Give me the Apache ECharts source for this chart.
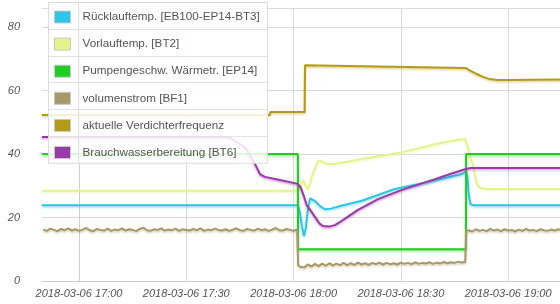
<!DOCTYPE html>
<html>
<head>
<meta charset="utf-8">
<script src="https://cdn.jsdelivr.net/npm/echarts@6/dist/echarts.min.js"></script>
<style>
html,body{margin:0;padding:0;background:#fff;}
#chart{width:560px;height:304px;}
</style>
</head>
<body>
<div id="chart"></div>
<script>
// ---- data (x = minutes after 2018-03-06 17:00) ----
var seriesNames = ['Rücklauftemp. [EB100-EP14-BT3]', 'Vorlauftemp. [BT2]', 'Pumpengeschw. Wärmetr. [EP14]', 'volumenstrom [BF1]', 'aktuelle Verdichterfrequenz', 'Brauchwasserbereitung [BT6]'];
var tickValues = [0, 30, 60, 90, 120];
var tickLabels = ['2018-03-06 17:00', '2018-03-06 17:30', '2018-03-06 18:00', '2018-03-06 18:30', '2018-03-06 19:00'];

var ruecklaufTimes = [-10.4, 61.2, 61.7, 62.3, 62.9, 63.4, 64.0, 64.6, 65.1, 66.0, 67.5, 68.8, 70.5, 73.0, 79.1, 88.3, 97.6, 107.1, 108.2, 108.6, 109.0, 109.5, 110.2, 135];
var ruecklaufValues = [23.9, 23.9, 22.0, 17.5, 14.2, 16.5, 22.5, 26.0, 26.3, 25.2, 23.5, 22.6, 22.8, 23.6, 25.3, 29.0, 31.2, 33.7, 34.5, 33.0, 27.0, 24.2, 23.9, 23.9];

var vorlaufTimes = [-10.4, 61.5, 62.3, 62.7, 63.2, 64.0, 64.6, 65.1, 66.0, 66.8, 67.5, 68.0, 69.0, 70.2, 72.0, 75.8, 79.1, 85.0, 90.3, 95.0, 99.5, 104.0, 107.9, 108.2, 108.8, 109.5, 110.1, 110.8, 111.3, 112.0, 112.7, 114.0, 135];
var vorlaufValues = [28.4, 28.4, 30.8, 31.8, 30.5, 29.0, 30.5, 32.9, 35.5, 37.6, 37.9, 37.8, 37.1, 36.8, 37.0, 37.7, 38.4, 39.5, 40.6, 41.8, 43.1, 44.1, 44.8, 44.8, 42.0, 38.5, 37.0, 33.0, 30.6, 29.6, 29.2, 29.0, 29.0];

var pumpeTimes = [-10.4, 61.2, 61.25, 108.2, 108.25, 135];
var pumpeValues = [40, 40, 10, 10, 40, 40];

// volumenstrom: readings once per minute inside each segment
var volSeg1Start = -10;   // 1-minute readings from -10 to 61
var volSeg1Values = [16.2, 15.8, 16.5, 16.1, 15.7, 16.4, 16.0, 16.6, 15.9, 16.3, 15.8, 16.2, 16.7, 16.0, 15.7, 16.4, 16.1, 15.9, 16.5, 15.8, 16.2, 16.0, 16.6, 15.9, 16.3, 16.1, 15.7, 16.4, 16.8, 16.0, 15.8, 16.3, 16.1, 16.6, 15.9, 16.2, 16.0, 16.5, 15.8, 16.3, 16.1, 15.9, 16.4, 16.0, 16.6, 15.8, 16.2, 16.0, 16.5, 16.1, 15.9, 16.3, 15.8, 16.2, 16.6, 16.0, 15.8, 16.4, 16.1, 15.9, 16.5, 16.0, 16.3, 15.8, 16.2, 16.7, 16.0, 15.9, 16.4, 16.1, 15.8, 16.3];
var volSeg2Start = 61.3;  // then 62..108
var volSeg2Values = [5.0, 4.4, 4.3, 5.2, 4.6, 5.4, 4.7, 5.5, 4.8, 5.6, 4.9, 5.5, 5.0, 5.7, 5.0, 5.6, 5.1, 5.8, 5.2, 5.6, 5.1, 5.7, 5.3, 5.8, 5.2, 5.7, 5.3, 5.6, 5.2, 5.8, 5.4, 5.7, 5.3, 5.9, 5.4, 5.7, 5.5, 5.9, 5.4, 5.8, 5.5, 6.0, 5.6, 5.9, 5.7, 6.1, 5.8, 6.0];
var volSeg3Start = 108.3; // then 109..135
var volSeg3Values = [15.8, 16.0, 15.6, 16.3, 15.8, 16.1, 15.7, 16.4, 15.9, 16.2, 15.7, 16.3, 15.9, 16.1, 15.6, 16.2, 15.8, 16.4, 15.9, 16.1, 15.7, 16.3, 16.0, 15.8, 16.2, 15.9, 16.3, 16.0];

var verdichterTimes = [-10.4, 53.4, 53.5, 63.1, 63.2, 108.2, 109.5, 111.3, 113.0, 114.9, 117.0, 119.7, 135];
var verdichterValues = [52.3, 52.3, 53.2, 53.2, 68.0, 67.1, 66.2, 65.2, 64.3, 63.6, 63.3, 63.3, 63.5];

var brauchTimes = [-10.4, 41.0, 42.5, 43.6, 46.4, 48.4, 49.2, 50.6, 52.0, 56.2, 61.2, 62.0, 62.8, 63.7, 64.6, 66.0, 67.2, 68.2, 70.2, 71.5, 73.0, 75.5, 78.0, 83.6, 90.3, 99.5, 104.0, 107.9, 109.5, 135];
var brauchValues = [45.4, 45.4, 45.0, 44.1, 42.2, 38.4, 36.9, 33.7, 32.8, 31.8, 30.6, 29.5, 27.0, 23.8, 22.5, 20.2, 18.2, 17.3, 17.2, 17.6, 18.6, 20.5, 22.4, 25.8, 28.7, 32.1, 33.8, 35.2, 35.6, 35.6];

var colors = ['#2ec5e6', '#e4f38c', '#22cc22', '#a89868', '#b39b1a', '#9a3aa8'];

// ---- build ----
function pairs(t, v) { return t.map(function (x, i) { return [x, v[i]]; }); }
function segment(start, vals) {
  // first reading at start, following readings on whole minutes
  var out = [[start, vals[0]]];
  var m = Math.floor(start) + 1;
  for (var i = 1; i < vals.length; i++) { out.push([m, vals[i]]); m++; }
  return out;
}
var volData = [];
volSeg1Values.forEach(function (v, i) { volData.push([volSeg1Start + i, v]); });
volData.push([61.2, volSeg1Values[volSeg1Values.length - 1]]);
volData = volData.concat(segment(volSeg2Start, volSeg2Values));
volData.push([108.2, volSeg2Values[volSeg2Values.length - 1]]);
volData = volData.concat(segment(volSeg3Start, volSeg3Values));

var dataSets = [
  pairs(ruecklaufTimes, ruecklaufValues),
  pairs(vorlaufTimes, vorlaufValues),
  pairs(pumpeTimes, pumpeValues),
  volData,
  pairs(verdichterTimes, verdichterValues),
  pairs(brauchTimes, brauchValues)
];

function hexA(hex, a) {
  var r = parseInt(hex.substr(1, 2), 16), g = parseInt(hex.substr(3, 2), 16), b = parseInt(hex.substr(5, 2), 16);
  return 'rgba(' + r + ',' + g + ',' + b + ',' + a + ')';
}

var series = seriesNames.map(function (n, i) {
  return {
    name: n, type: 'line', data: dataSets[i], showSymbol: false, symbol: 'none',
    color: colors[i], z: 2,
    lineStyle: { width: 2, color: colors[i], shadowColor: hexA(colors[i], 0.45), shadowBlur: 2, shadowOffsetY: 1.5 },
    animation: false
  };
});

var legendTop = 2, legendLeft = 48, legendW = 219, rowH = 26.8;
var gfx = [{
  type: 'rect', z: 3, silent: true,
  shape: { x: legendLeft + 0.5, y: legendTop + 0.5, width: legendW, height: rowH * 6 },
  style: { fill: 'rgba(255,255,255,0.85)', stroke: '#dcdcdc', lineWidth: 1 }
}, {
  type: 'line', z: 3, silent: true,
  shape: { x1: 78.5, y1: legendTop + 0.5, x2: 78.5, y2: legendTop + 0.5 + rowH * 6 },
  style: { stroke: '#e2e2e2', lineWidth: 1 }
}];
for (var r = 1; r < 6; r++) {
  var yy = Math.round(legendTop + rowH * r) + 0.5;
  gfx.push({ type: 'line', z: 3, silent: true, shape: { x1: legendLeft + 0.5, y1: yy, x2: legendLeft + 0.5 + legendW, y2: yy }, style: { stroke: '#e2e2e2', lineWidth: 1 } });
}

var chart = echarts.init(document.getElementById('chart'), null, { renderer: 'canvas' });
chart.setOption({
  animation: false,
  color: colors,
  grid: { left: 42, right: 0, top: 8, bottom: 23, containLabel: false },
  legend: {
    orient: 'vertical', left: 54, top: 10.5, padding: 0, itemGap: 14.1,
    itemWidth: 16, itemHeight: 12, icon: 'rect', z: 4,
    itemStyle: { borderColor: '#c8c8c8', borderWidth: 1 },
    textStyle: { fontFamily: 'Liberation Sans', fontSize: 11.7, color: '#555', padding: [0, 0, 0, 7] },
    selectedMode: false,
    data: seriesNames
  },
  graphic: gfx,
  xAxis: {
    type: 'value', min: -10.35, max: 134.5,
    axisLine: { show: true, lineStyle: { color: '#cfcfcf' } },
    axisTick: { show: false, customValues: tickValues },
    splitLine: { show: true, lineStyle: { color: '#dadada' } },
    axisLabel: {
      customValues: tickValues, margin: 7,
      fontFamily: 'Liberation Sans', fontSize: 11, fontStyle: 'italic', color: '#555',
      formatter: function (v) { var i = tickValues.indexOf(v); return i >= 0 ? tickLabels[i] : ''; }
    }
  },
  yAxis: {
    type: 'value', min: 0, max: 86, interval: 20,
    axisLine: { show: true, lineStyle: { color: '#cfcfcf' } },
    axisTick: { show: false },
    splitLine: { show: true, lineStyle: { color: '#dadada' } },
    axisLabel: { margin: 22, showMaxLabel: false, fontFamily: 'Liberation Sans', fontSize: 11, fontStyle: 'italic', color: '#555' }
  },
  series: series
});
</script>
</body>
</html>
